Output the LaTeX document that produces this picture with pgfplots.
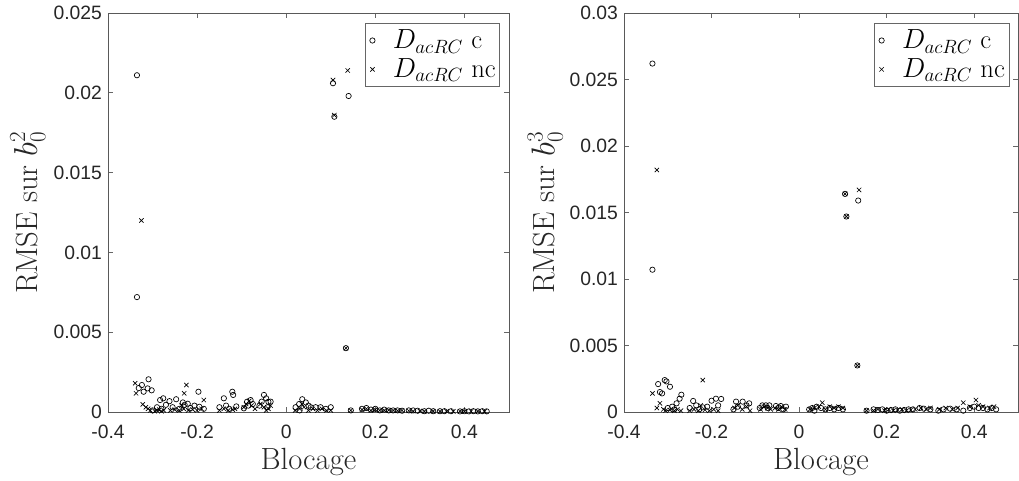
\documentclass[border=0pt]{standalone}
\usepackage{fontspec}
\usepackage{pgfplots}
\pgfplotsset{compat=1.18}
\newfontfamily\ticksf{Liberation Sans}

\pgfplotsset{
  mystyle/.style={
    scale only axis,
    height=299.25pt,
    xmin=-0.4, xmax=0.5, ymin=0,
    xtick={-0.4,-0.2,0,0.2,0.4},
    xticklabels={-0.4,-0.2,0,0.2,0.4},
    tick align=inside,
    tick style={black!60, line width=0.5pt},
    major tick length=3.5pt,
    axis line style={black!65, line width=0.6pt},
    /pgf/number format/assume math mode=true,
    tick label style={font=\ticksf\fontsize{14.5}{17}\selectfont, text=black!85},
    xticklabel style={yshift=-6pt},
    yticklabel style={xshift=-1pt},
    scaled y ticks=false,
    label style={font=\fontsize{23}{26}\selectfont, text=black!85},
    xlabel={Blocage},
    xlabel style={at={(axis description cs:0.5,-0.125)}, anchor=center},
    ylabel style={at={(axis description cs:-0.2,0.5)}, anchor=center},
    legend style={at={(axis description cs:0.978,0.975)}, anchor=north east,
      draw=black!60, line width=0.6pt, font=\fontsize{20}{23}\selectfont,
      inner xsep=2pt, inner ysep=3pt, row sep=2pt,
      nodes={inner xsep=1pt, inner ysep=2pt}},
    legend cell align=left,
  },
  legimg/.style={legend image code/.code={
      \path (-3pt,0pt) (14pt,0pt);
      \draw[##1] plot coordinates {(0pt,0pt)};}},
  cmark/.style={only marks, mark=o, mark size=2pt, black, mark options={line width=0.5pt}, legimg},
  xmark/.style={only marks, mark=x, mark size=2.3pt, black, mark options={line width=0.5pt}, legimg},
}

\begin{document}
\begin{tikzpicture}
\begin{axis}[mystyle, width=300.75pt, ymax=0.025,
  ytick={0,0.005,0.01,0.015,0.02,0.025},
  yticklabels={0,0.005,0.01,0.015,0.02,0.025},
  ylabel={RMSE sur $b_0^2$}]
\addplot[cmark] coordinates {
(-0.335,0.0211) (-0.335,0.0072) (0.105,0.0206) (0.108,0.0185) (0.140,0.0198) (0.134,0.0040)
(-0.324,0.00169) (-0.309,0.00205) (-0.320,0.00127) (-0.311,0.00148) (-0.302,0.00136) (-0.331,0.0015)
(-0.283,0.00075) (-0.276,0.00086) (-0.29,0.0003) (-0.28,0.0002) (-0.30,0.0001) (-0.27,0.00045)
(-0.262,0.00068) (-0.247,0.0008) (-0.232,0.0006) (-0.221,0.00052) (-0.206,0.0004) (-0.195,0.00033)
(-0.197,0.00127) (-0.255,0.0003) (-0.24,0.0002) (-0.215,0.00025) (-0.185,0.0002) (-0.228,0.00045)
(-0.14,0.00086) (-0.121,0.00127) (-0.119,0.00107) (-0.15,0.0003) (-0.135,0.0004) (-0.128,0.0002) (-0.112,0.00035)
(-0.095,0.00023) (-0.088,0.00064) (-0.080,0.00075) (-0.085,0.0004) (-0.075,0.0005)
(-0.050,0.00107) (-0.045,0.00086) (-0.040,0.00064) (-0.055,0.00065) (-0.035,0.00065) (-0.06,0.0004) (-0.042,0.0003)
(0.021,0.0003) (0.029,0.0005) (0.036,0.0008) (0.044,0.0006) (0.055,0.0003) (0.066,0.0003) (0.077,0.0003)
(0.089,0.0002) (0.1,0.0003) (0.03,0.0001) (0.05,0.0004)
(0.145,0.0001) (0.17,0.0002) (0.18,0.00025) (0.19,0.00015) (0.2,0.0002) (0.21,0.0001) (0.22,0.00015)
(0.23,0.0001) (0.24,0.0001) (0.25,0.0001) (0.26,0.00008) (0.275,0.0001) (0.285,0.0001) (0.295,0.00008)
(0.31,0.00005) (0.32,0.00008) (0.33,0.00005) (0.345,0.00005) (0.355,0.00005) (0.37,0.00005) (0.39,0.00004)
(0.40,0.00005) (0.41,0.00004) (0.42,0.00005) (0.43,0.00004) (0.44,0.00005) (0.45,0.00004)
};
\addlegendentry{$D_{acRC}$ c}
\addplot[xmark] coordinates {
(-0.325,0.0120) (0.105,0.0208) (0.108,0.0186) (0.138,0.0214) (0.134,0.0040)
(-0.339,0.0018) (-0.337,0.00117) (-0.322,0.00048) (-0.31,0.0002) (-0.305,0.0001) (-0.29,0.0001)
(-0.285,0.00015) (-0.275,0.0001) (-0.28,0.00005) (-0.315,0.0003) (-0.295,0.00005)
(-0.224,0.00169) (-0.229,0.00117) (-0.185,0.00075) (-0.26,0.0001) (-0.25,0.00015) (-0.24,0.0001)
(-0.23,0.0002) (-0.22,0.0001) (-0.21,0.00015) (-0.2,0.0001) (-0.19,0.0002) (-0.235,0.0004)
(-0.15,0.0001) (-0.14,0.0002) (-0.13,0.0001) (-0.12,0.00015) (-0.115,0.0002)
(-0.095,0.0003) (-0.09,0.0005) (-0.083,0.0007) (-0.078,0.0004) (-0.07,0.0002)
(-0.058,0.0005) (-0.05,0.0003) (-0.045,0.0001) (-0.04,0.0002) (-0.035,0.0004)
(0.02,0.0001) (0.03,0.0002) (0.04,0.0003) (0.05,0.0001) (0.06,0.0002) (0.07,0.0001) (0.08,0.0002)
(0.09,0.0001) (0.1,0.0001) (0.035,0.0005)
(0.145,0.0001) (0.17,0.00015) (0.18,0.0002) (0.19,0.0001) (0.2,0.00015) (0.21,0.0001) (0.22,0.0001)
(0.23,0.00012) (0.24,0.0001) (0.25,0.00008) (0.26,0.0001) (0.275,0.00008) (0.285,0.00005) (0.3,0.00006)
(0.31,0.00005) (0.33,0.00005) (0.345,0.00004) (0.36,0.00005) (0.375,0.00004) (0.39,0.00005) (0.40,0.00004)
(0.415,0.00004) (0.43,0.00005) (0.445,0.00004)
};
\addlegendentry{$D_{acRC}$ nc}
\end{axis}

\begin{axis}[mystyle, at={(387pt,0)}, anchor=south west, width=295.5pt, ymax=0.03,
  ytick={0,0.005,0.01,0.015,0.02,0.025,0.03},
  yticklabels={0,0.005,0.01,0.015,0.02,0.025,0.03},
  ylabel={RMSE sur $b_0^3$}]
\addplot[cmark] coordinates {
(-0.335,0.0262) (-0.335,0.0107) (0.105,0.0164) (0.108,0.0147) (0.135,0.0159) (0.133,0.0035)
(-0.322,0.0021) (-0.307,0.0024) (-0.303,0.0023) (-0.295,0.0019) (-0.318,0.0015) (-0.313,0.0014)
(-0.28,0.00065) (-0.273,0.001) (-0.269,0.0013) (-0.3,0.0003) (-0.285,0.0002) (-0.29,0.0004)
(-0.242,0.00083) (-0.235,0.0005) (-0.22,0.00035) (-0.20,0.00085) (-0.19,0.001) (-0.178,0.00098)
(-0.25,0.0003) (-0.21,0.0004) (-0.185,0.0005) (-0.228,0.0002)
(-0.144,0.00078) (-0.129,0.00078) (-0.114,0.00065) (-0.14,0.0004) (-0.12,0.0005) (-0.15,0.0002)
(-0.084,0.0005) (-0.076,0.0005) (-0.068,0.0005) (-0.09,0.0003) (-0.072,0.0003)
(-0.053,0.00045) (-0.042,0.00045) (-0.03,0.0004) (-0.048,0.0003) (-0.036,0.0002)
(0.023,0.0002) (0.03,0.0003) (0.04,0.0004) (0.05,0.0003) (0.06,0.0002) (0.07,0.0003) (0.08,0.0002)
(0.09,0.0003) (0.1,0.0002) (0.035,0.0001)
(0.154,0.0001) (0.17,0.0002) (0.18,0.00015) (0.19,0.0002) (0.2,0.0001) (0.21,0.00015) (0.22,0.0002)
(0.23,0.0001) (0.24,0.00015) (0.25,0.0002) (0.26,0.0002) (0.275,0.0003) (0.285,0.00025) (0.3,0.0002)
(0.318,0.0001) (0.33,0.0002) (0.345,0.00025) (0.36,0.0002) (0.375,0.0001) (0.39,0.0003) (0.40,0.0004)
(0.41,0.0003) (0.42,0.0003) (0.43,0.0002) (0.44,0.0003) (0.45,0.0002)
};
\addlegendentry{$D_{acRC}$ c}
\addplot[xmark] coordinates {
(-0.325,0.0182) (0.105,0.0164) (0.108,0.0147) (0.137,0.0167) (0.133,0.0035) (-0.22,0.0024)
(-0.335,0.0014) (-0.318,0.00065) (-0.31,0.0002) (-0.305,0.0001) (-0.295,0.00015) (-0.285,0.0001)
(-0.278,0.0002) (-0.27,0.0001) (-0.325,0.0003)
(-0.25,0.0001) (-0.24,0.0002) (-0.23,0.0001) (-0.215,0.00015) (-0.205,0.0001) (-0.195,0.0002)
(-0.185,0.0001) (-0.225,0.0005)
(-0.148,0.0003) (-0.14,0.0005) (-0.13,0.0002) (-0.12,0.0004) (-0.112,0.0001)
(-0.088,0.0002) (-0.08,0.0004) (-0.072,0.0003) (-0.065,0.0002)
(-0.055,0.0003) (-0.047,0.0002) (-0.04,0.0004) (-0.032,0.0002)
(0.025,0.0002) (0.035,0.0003) (0.045,0.0004) (0.053,0.0007) (0.06,0.0002) (0.07,0.0004) (0.08,0.0003)
(0.09,0.0004) (0.1,0.0003)
(0.154,0.0001) (0.17,0.0001) (0.18,0.0002) (0.195,0.0001) (0.205,0.0002) (0.215,0.0001) (0.225,0.00015)
(0.235,0.0002) (0.245,0.0001) (0.255,0.00015) (0.265,0.0002) (0.278,0.0003) (0.29,0.0002) (0.3,0.0003)
(0.32,0.0002) (0.335,0.0003) (0.35,0.0002) (0.362,0.0003) (0.375,0.0007) (0.39,0.0004) (0.404,0.0009)
(0.41,0.0005) (0.42,0.0004) (0.435,0.0003) (0.445,0.0004)
};
\addlegendentry{$D_{acRC}$ nc}
\end{axis}
\pgfresetboundingbox
\path (-81pt,-51pt) rectangle (683.25pt,309pt);
\end{tikzpicture}
\end{document}
